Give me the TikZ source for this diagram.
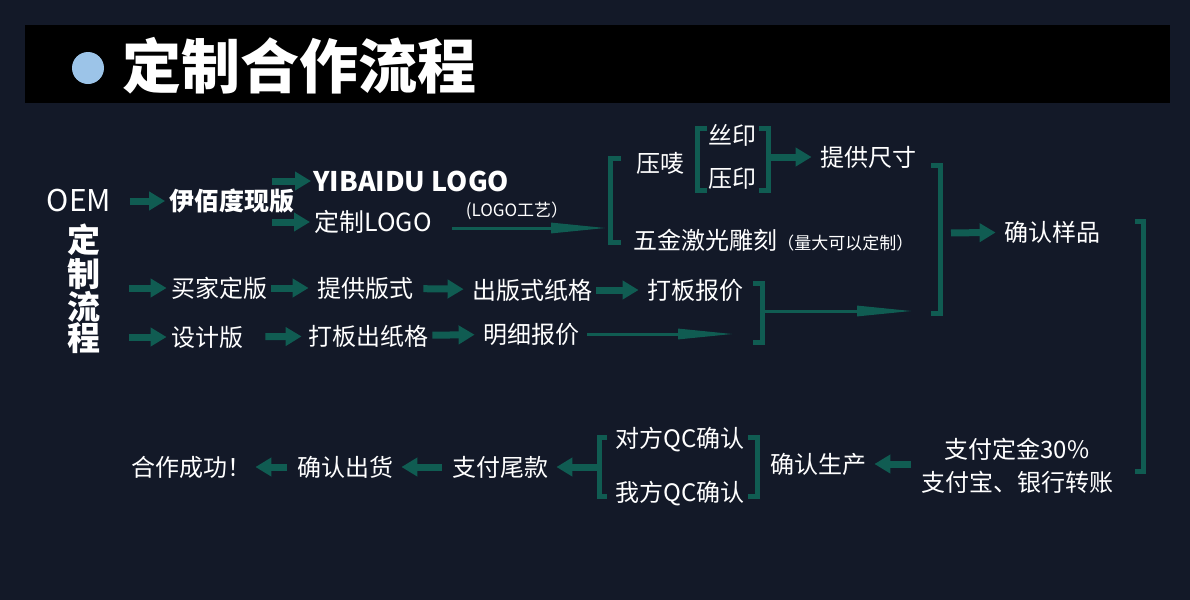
\documentclass[tikz,border=0pt]{standalone}
\usepackage{fontspec}
\setmainfont{Noto Sans CJK SC}
\usetikzlibrary{arrows.meta, positioning}
\definecolor{bgnavy}{RGB}{19,25,40}
\definecolor{flowteal}{RGB}{16,92,82}
\definecolor{dotblue}{RGB}{156,196,232}

\begin{document}
\begin{tikzpicture}[
  x=0.5pt, y=-0.5pt,
  txt/.style={text=white, inner sep=0pt, font=\fontsize{12}{14}\selectfont},
  bold/.style={txt, font=\fontsize{12.5}{14}\selectfont\bfseries},
  note/.style={txt, font=\fontsize{8.5}{10}\selectfont},
  arrow/.style={-{Triangle[length=8pt,width=9pt]}, line width=3.5pt, flowteal, shorten <=5pt, shorten >=4pt},
  longarrow/.style={-{Triangle[length=28pt,width=5pt]}, line width=1.5pt, flowteal},
  brace/.style={line width=2.5pt, flowteal}
]
\useasboundingbox (0,0) rectangle (1190,600);
\fill[bgnavy] (0,0) rectangle (1190,600);

% Title
\fill[black] (25,25) rectangle (1170,103);
\fill[dotblue] (88,68) circle (16);
\node (title) [txt, anchor=west, font=\fontsize{29.5}{32}\selectfont\bfseries] at (122,66) {定制合作流程};

% Nodes
\node (oem) [txt, font=\fontsize{15}{16}\selectfont] at (79,201) {OEM};
\node (liucheng) [txt, align=center, font=\fontsize{16.5}{15.5}\selectfont\bfseries] at (84,289) {定\\制\\流\\程};
\node (yibaidu) [bold] at (232,201) {伊佰度现版};
\node (ylogo) [bold, anchor=west, font=\fontsize{13.5}{14}\selectfont\bfseries] at (313,181) {YIBAIDU LOGO};
\node (dlogo) [txt, anchor=west, font=\fontsize{12.5}{14}\selectfont] at (314,222) {定制LOGO};
\node (gongyi) [note] at (517,211) {(LOGO工艺）};
\node (yamai) [txt] at (660,163) {压唛};
\node (siyin) [txt] at (732,135) {丝印};
\node (yayin) [txt] at (732,179) {压印};
\node (chicun) [txt] at (868,157) {提供尺寸};
\node (wujin) [txt, anchor=west] at (633,240) {五金激光雕刻{\fontsize{8.5}{9}\selectfont（量大可以定制）}};
\node (yangpin) [txt] at (1052,232) {确认样品};

\node (maijia) [txt] at (219,288) {买家定版};
\node (banshi) [txt] at (365,288) {提供版式};
\node (zhige) [txt] at (532,290) {出版式纸格};
\node (baojia) [txt] at (695,290) {打板报价};
\node (sheji) [txt] at (207,337) {设计版};
\node (chuzhige) [txt] at (368,336) {打板出纸格};
\node (mingxi) [txt] at (531,334) {明细报价};

\node (dingjin) [txt, align=center, font=\fontsize{12}{16.5}\selectfont] at (1017,466) {支付定金30\%\\支付宝、银行转账};
\node (shengchan) [txt] at (818,464) {确认生产};
\node (duifang) [txt] at (680,440) {对方QC确认};
\node (wofang) [txt] at (680,494) {我方QC确认};
\node (weikuan) [txt] at (500,467) {支付尾款};
\node (chuhuo) [txt] at (345,467) {确认出货};
\node (chenggong) [txt] at (191,467) {合作成功！};

% Brackets
\draw[brace] (621,158) -- (610,158) -- (610,242) -- (621,242);
\draw[brace] (707,128) -- (697,128) -- (697,190) -- (707,190);
\draw[brace] (759,128) -- (768,128) -- (768,190) -- (759,190);
\draw[brace] (931,165) -- (940,165) -- (940,313) -- (931,313);
\draw[brace] (1135,221) -- (1143,221) -- (1143,471) -- (1135,471);
\draw[brace] (753,283) -- (762,283) -- (762,342) -- (753,342);
\draw[brace] (748,437) -- (757,437) -- (757,496) -- (748,496);
\draw[brace] (607,437) -- (599,437) -- (599,496) -- (607,496);

\coordinate (fork1) at (272,181);
\coordinate (fork2) at (272,222);
\coordinate (brkA) at (607,228);
\coordinate (brkB) at (769,157);
\coordinate (brkC) at (941,233);
\coordinate (brkD) at (764,311);
\coordinate (brkE) at (913,311);
\coordinate (brkF) at (734,334);
\coordinate (brkG) at (598,467);

% Arrows
\draw [arrow, shorten <=9pt, shorten >=2pt] (oem) -- (yibaidu);
\draw [arrow, shorten <=0pt, shorten >=1pt] (fork1) -- (ylogo);
\draw [arrow, shorten <=0pt, shorten >=2pt] (fork2) -- (dlogo);
\draw [longarrow] ([xshift=10pt,yshift=-3pt]dlogo.east) -- (brkA);
\draw [arrow, shorten <=0pt] (brkB) -- (chicun);
\draw [arrow] (brkC) -- (yangpin);

\draw [arrow, shorten <=14pt, shorten >=2pt] (liucheng.east |- maijia) -- (maijia);
\draw [arrow, shorten <=2pt] (maijia) -- (banshi);
\draw [arrow] (banshi) -- (zhige);
\draw [arrow, shorten <=2pt] (zhige) -- (baojia);
\draw [arrow, shorten <=14pt, shorten >=2pt] (liucheng.east |- sheji) -- (sheji);
\draw [arrow, shorten <=11pt, shorten >=3pt] (sheji) -- (chuzhige);
\draw [arrow, shorten <=2pt] (chuzhige) -- (mingxi);
\draw [longarrow, shorten <=4pt] (mingxi) -- (brkF);
\draw [longarrow] (brkD) -- (brkE);

\draw [arrow] (dingjin.west |- shengchan) -- (shengchan);
\draw [arrow, shorten <=0pt] (brkG) -- (weikuan);
\draw [arrow] (weikuan) -- (chuhuo);
\draw [arrow, shorten >=2pt] (chuhuo) -- (chenggong);

\end{tikzpicture}
\end{document}
